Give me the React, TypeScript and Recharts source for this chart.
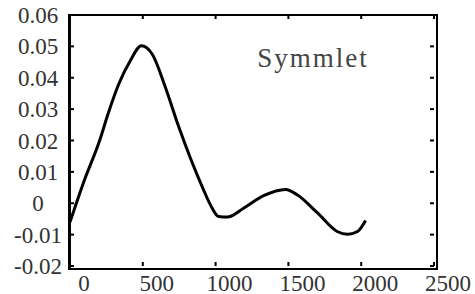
import { LineChart, Line, XAxis, YAxis } from 'recharts';

const xValues = [0, 100, 200, 265, 335, 415, 490, 565, 655, 745, 830, 915, 970, 1020, 1080, 1195, 1330, 1480, 1560, 1700, 1835, 1905, 1975, 2030];
const yValues = [-0.006, 0.0075, 0.0195, 0.029, 0.038, 0.0455, 0.0502, 0.0475, 0.037, 0.0246, 0.014, 0.0045, -0.001, -0.0042, -0.0044, -0.0015, 0.0024, 0.0044, 0.0027, -0.0031, -0.009, -0.0099, -0.009, -0.0055];
const xTicks = [0, 500, 1000, 1500, 2000, 2500];
const yTicks = [-0.02, -0.01, 0, 0.01, 0.02, 0.03, 0.04, 0.05, 0.06];
const seriesLabel = 'Symmlet';

const data = xValues.map((x, i) => ({ x, y: yValues[i] }));

const serif = 'Liberation Serif, Times New Roman, serif';
const W = 475;
const H = 294;
const M = { top: 15, right: 41, left: 0, bottom: 0 };
const AXIS_W = 70;
const AXIS_H = 28;
const plotTop = M.top;
const plotLeft = M.left + AXIS_W;
const plotRight = W - M.right;
const plotBottom = H - M.bottom - AXIS_H;

// label plus inward ticks on both bottom and top edges
function XTick({ x, payload }: any) {
  return (
    <g>
      <line x1={x} x2={x} y1={plotTop} y2={plotTop + 4} stroke="#000" strokeWidth={2} />
      <line x1={x} x2={x} y1={plotBottom} y2={plotBottom - 4} stroke="#000" strokeWidth={2} />
      <text x={x + 14} y={plotBottom + 25} textAnchor="middle" fontFamily={serif} fontSize={23} fill="#333">
        {payload.value}
      </text>
    </g>
  );
}

function YTick({ y, payload }: any) {
  const v = payload.value;
  const label = v === 0 ? '0' : v.toFixed(2);
  return (
    <g>
      <line x1={plotRight} x2={plotRight - 4} y1={y} y2={y} stroke="#000" strokeWidth={2} />
      <line x1={plotLeft} x2={plotLeft + 4} y1={y} y2={y} stroke="#000" strokeWidth={2} />
      <text x={38} y={y} dy={8} textAnchor="middle" fontFamily={serif} fontSize={23} fill="#333">
        {label}
      </text>
    </g>
  );
}

export default function App() {
  return (
    <div style={{ position: 'fixed', left: 0, top: 0, width: W, height: H, background: '#fff' }}>
      <LineChart width={W} height={H} data={data} margin={M}>
        <XAxis
          dataKey="x"
          type="number"
          domain={[0, 2500]}
          ticks={xTicks}
          height={AXIS_H}
          axisLine={false}
          tickLine={false}
          tick={<XTick />}
          interval={0}
        />
        <YAxis
          type="number"
          domain={[-0.02, 0.06]}
          ticks={yTicks}
          width={AXIS_W}
          axisLine={false}
          tickLine={false}
          tick={<YTick />}
          interval={0}
        />
        <Line
          type="monotone"
          dataKey="y"
          stroke="#000"
          strokeWidth={3}
          dot={false}
          isAnimationActive={false}
        />
        <text x={313} y={67} textAnchor="middle" fontFamily={serif} fontSize={27} fill="#444" letterSpacing={2}>
          {seriesLabel}
        </text>
      </LineChart>
      {/* plot frame drawn as an overlay */}
      <div
        style={{
          position: 'absolute',
          left: plotLeft - 2,
          top: plotTop - 1,
          width: plotRight - plotLeft + 1,
          height: plotBottom - plotTop + 1,
          borderLeft: '3px solid #000',
          borderTop: '2px solid #000',
          borderRight: '2px solid #000',
          borderBottom: '2px solid #000',
          pointerEvents: 'none',
        }}
      />
    </div>
  );
}
